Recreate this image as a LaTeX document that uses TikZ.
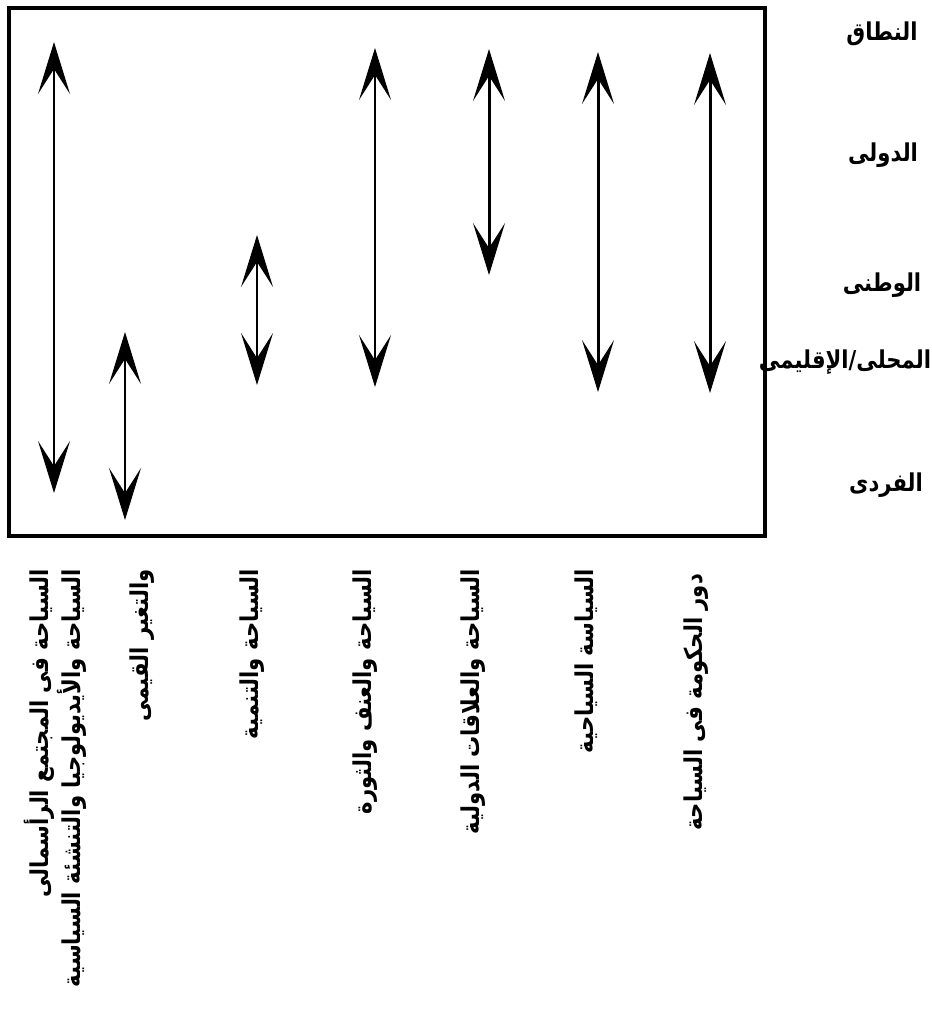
\documentclass[tikz,border=0pt]{standalone}
\usepackage{fontspec}
\usetikzlibrary{positioning, arrows.meta}
\newfontfamily\arabicfont[Script=Arabic, FakeStretch=0.86]{DejaVu Sans}
\TeXXeTstate=1

\tikzset{
    twoway/.style={line width=1.7pt, >={Stealth[length=1.04cm, width=0.64cm, inset=0.5cm]}, <->},
    levelname/.style={font=\arabicfont\bfseries\fontsize{14}{16}\selectfont, inner sep=1pt},
    topicname/.style={font=\arabicfont\bfseries\fontsize{14}{16}\selectfont, inner sep=1pt, rotate=90, anchor=east}
}

\begin{document}
\begin{tikzpicture}[x=0.02cm, y=-0.02cm]
        \useasboundingbox (0,0) rectangle (932,1010);

        % frame
        \draw[line width=1.8pt] (9,8) rectangle (765,536);

        % levels of scope
        \node[levelname] (scope) at (882,34) {\beginR النطاق\endR};
        \node[levelname] (intl)  at (883,155) {\beginR الدولى\endR};
        \node[levelname] (natl)  at (882,285) {\beginR الوطنى\endR};
        \node[levelname] (local) at (845,362) {\beginR المحلى/الإقليمى\endR};
        \node[levelname] (indiv) at (886,485) {\beginR الفردى\endR};

        % arrow ends
        \foreach \n/\x/\top/\bot in {1/54/42/493, 2/125/332/520, 3/257/235/385, 4/375/48/387,
                                     5/489/49/275, 6/598/52/392, 7/710/53/393}
        {
            \coordinate (a\n t) at (\x,\top);
            \coordinate (a\n b) at (\x,\bot);
            \draw[twoway] (a\n b) -- (a\n t);
        }

        % topics
        \node[topicname] (t1) at (39,567) {\beginR السياحة فى المجتمع الرأسمالى\endR};
        \node[topicname] (t2) at (72,567) {\beginR السياحة والأيديولوجيا والتنشئة السياسية\endR};
        \node[topicname] (t3) at (142,567) {\beginR والتغير القيمى\endR};
        \node[topicname] (t4) at (252,567) {\beginR السياحة والتنمية\endR};
        \node[topicname] (t5) at (365,567) {\beginR السياحة والعنف والثورة\endR};
        \node[topicname] (t6) at (473,567) {\beginR السياحة والعلاقات الدولية\endR};
        \node[topicname] (t7) at (586,567) {\beginR السياسة السياحية\endR};
        \node[topicname] (t8) at (696,572) {\beginR دور الحكومة فى السياحة\endR};
\end{tikzpicture}
\end{document}
